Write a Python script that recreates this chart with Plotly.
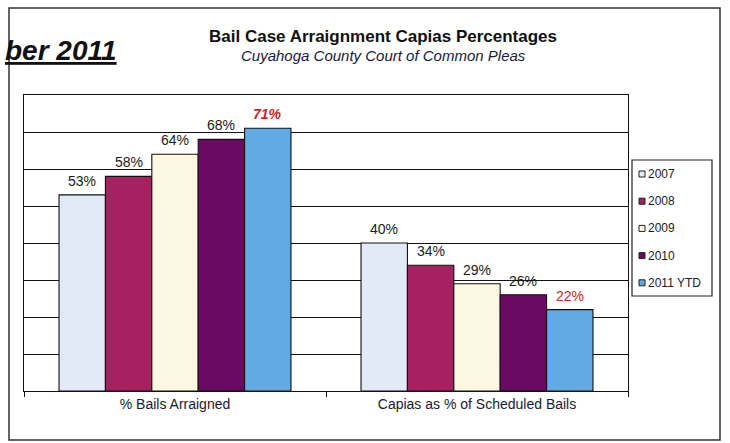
import plotly.graph_objects as go

# ---- data ----
categories = ["% Bails Arraigned", "Capias as % of Scheduled Bails"]
series_names = ["2007", "2008", "2009", "2010", "2011 YTD"]
values_2007 = [53, 40]
values_2008 = [58, 34]
values_2009 = [64, 29]
values_2010 = [68, 26]
values_2011 = [71, 22]
all_values = [values_2007, values_2008, values_2009, values_2010, values_2011]

colors = ["#e3eaf7", "#a6215f", "#fbf7e1", "#6a0a62", "#62aae3"]
label_colors = ["#1a1a1a", "#1a1a1a", "#1a1a1a", "#1a1a1a", "#c62828"]

W, H = 730, 443
L, R, T, B = 24, 102, 95, 52
PW, PH = W - L - R, H - T - B
FONT = "Liberation Sans, Arial, sans-serif"
BARGAP = 0.232


def px2x(px):
    return (px - L) / PW


def px2y(py):
    return (H - B - py) / PH


fig = go.Figure()
for name, vals, col in zip(series_names, all_values, colors):
    fig.add_trace(go.Bar(
        x=categories, y=vals, name=name, marker_color=col,
        marker_line_color="#111", marker_line_width=1.1, showlegend=False,
    ))

# data labels
cat_w = PW / len(categories)
bar_w = cat_w * (1 - BARGAP) / len(series_names)
annotations = []
for i, (vals, lc) in enumerate(zip(all_values, label_colors)):
    for j, v in enumerate(vals):
        emph = (i == len(series_names) - 1 and j == 0)
        txt = f"{v}%"
        if emph:
            txt = f"<b><i>{v}%</i></b>"
        annotations.append(dict(
            x=categories[j], y=v, xref="x", yref="y", text=txt, showarrow=False,
            xshift=(i - (len(series_names) - 1) / 2) * bar_w, yshift=14,
            yanchor="middle", font=dict(family=FONT, size=14, color=lc),
        ))

# titles
annotations.append(dict(
    x=px2x(383), y=px2y(37), xref="paper", yref="paper", showarrow=False,
    text="<b>Bail Case Arraignment Capias Percentages</b>", yanchor="middle",
    font=dict(family=FONT, size=17, color="#111"),
))
annotations.append(dict(
    x=px2x(383), y=px2y(56), xref="paper", yref="paper", showarrow=False,
    text="<i>Cuyahoga County Court of Common Pleas</i>", yanchor="middle",
    font=dict(family=FONT, size=15, color="#1a1a3a"),
))
annotations.append(dict(
    x=px2x(119), y=px2y(50), xref="paper", yref="paper", showarrow=False,
    text="<b><i><u>ber 2011</u></i></b>", xanchor="right", yanchor="middle",
    font=dict(family=FONT, size=28, color="#111"),
))

shapes = []
# outer frame
shapes.append(dict(type="rect", xref="paper", yref="paper",
                   x0=px2x(9), x1=px2x(720), y0=px2y(440), y1=px2y(8),
                   line=dict(color="#333", width=1.5), layer="below"))

# manual legend
lx0, lx1, ly0, ly1 = 632, 712, 160, 296
shapes.append(dict(type="rect", xref="paper", yref="paper",
                   x0=px2x(lx0), x1=px2x(lx1), y0=px2y(ly1), y1=px2y(ly0),
                   line=dict(color="#222", width=1.2), fillcolor="white"))
item_y0, item_dy = 174, 27.2
for k, (name, col) in enumerate(zip(series_names, colors)):
    yc = item_y0 + k * item_dy
    shapes.append(dict(type="rect", xref="paper", yref="paper",
                       x0=px2x(639), x1=px2x(645), y0=px2y(yc + 3), y1=px2y(yc - 3),
                       line=dict(color="#222", width=1), fillcolor=col))
    annotations.append(dict(
        x=px2x(646), y=px2y(yc), xref="paper", yref="paper", showarrow=False,
        text=name, xanchor="left", yanchor="middle",
        font=dict(family=FONT, size=12, color="#1a1a2a"),
    ))

fig.update_layout(
    width=W, height=H,
    margin=dict(l=L, r=R, t=T, b=B, pad=0),
    paper_bgcolor="white", plot_bgcolor="white",
    barmode="group", bargap=BARGAP, bargroupgap=0,
    showlegend=False,
    annotations=annotations, shapes=shapes,
    font=dict(family=FONT, color="#111"),
)
fig.update_xaxes(
    showline=True, linecolor="#111", linewidth=1.3, mirror=True,
    ticks="outside", tickson="boundaries", ticklen=5, tickcolor="#111",
    tickfont=dict(family=FONT, size=14, color="#1a1a2a"),
)
fig.update_yaxes(
    range=[0, 80], dtick=10, showticklabels=False,
    showgrid=True, gridcolor="#111", gridwidth=1.3,
    showline=True, linecolor="#111", linewidth=1.3, mirror=True,
    zeroline=False,
)

fig.write_html("out.html", config={"displayModeBar": False},
               post_script="document.body.style.margin='0';")
